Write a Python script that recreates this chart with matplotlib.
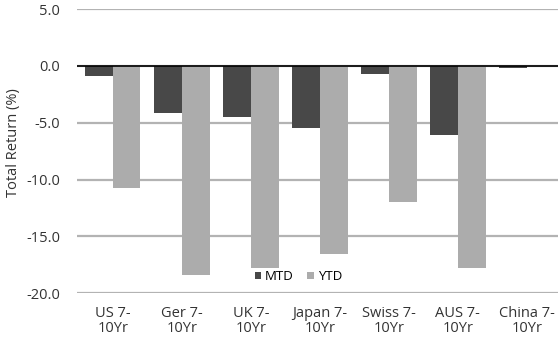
import numpy as np
import matplotlib
matplotlib.use("Agg")
import matplotlib.pyplot as plt

plt.rcParams['font.family'] = ['Open Sans', 'DejaVu Sans']

categories = ["US 7-\n10Yr", "Ger 7-\n10Yr", "UK 7-\n10Yr", "Japan 7-\n10Yr",
              "Swiss 7-\n10Yr", "AUS 7-\n10Yr", "China 7-\n10Yr"]
mtd = [-0.9, -4.1, -4.5, -5.5, -0.75, -6.1, -0.2]
ytd = [-10.75, -18.4, -17.8, -16.55, -11.95, -17.8, -0.05]
yticks = [-20, -15, -10, -5, 0, 5]


def main():
    fig = plt.figure(figsize=(5.58, 3.4), dpi=100)
    ax = fig.add_axes([0.138, 0.138, 0.862, 0.835])

    x = np.arange(len(categories))
    w = 0.4
    for y in yticks:
        ax.axhline(y, color="#b3b3b3", lw=1.6, zorder=0)
    ax.bar(x - w / 2, mtd, w, color="#484848", label="MTD", zorder=2)
    ax.bar(x + w / 2, ytd, w, color="#acacac", label="YTD", zorder=2)
    ax.axhline(0, color="black", lw=1.2, zorder=3)

    ax.set_xlim(-0.52, 6.45)
    ax.set_ylim(-20, 5)
    ax.set_yticks(yticks)
    ax.set_yticklabels(["%.1f" % v for v in yticks])
    ax.set_xticks(x)
    ax.set_xticklabels(categories, linespacing=1.05)
    ax.tick_params(length=0, labelsize=10.5, colors="#333333")
    ax.tick_params(axis="y", pad=12)
    ax.tick_params(axis="x", pad=9)
    for s in ax.spines.values():
        s.set_visible(False)
    ax.set_ylabel("Total Return (%)", fontsize=10.5, color="#333333")
    ax.yaxis.set_label_coords(-0.117, 0.53)

    ax.legend(loc="center", bbox_to_anchor=(0.46, 0.058), ncol=2, frameon=False,
              fontsize=9.5, handlelength=0.5, handleheight=0.5,
              handletextpad=0.3, columnspacing=1.0, borderpad=0)

    fig.savefig("out.png", dpi=100)


if __name__ == "__main__":
    main()
